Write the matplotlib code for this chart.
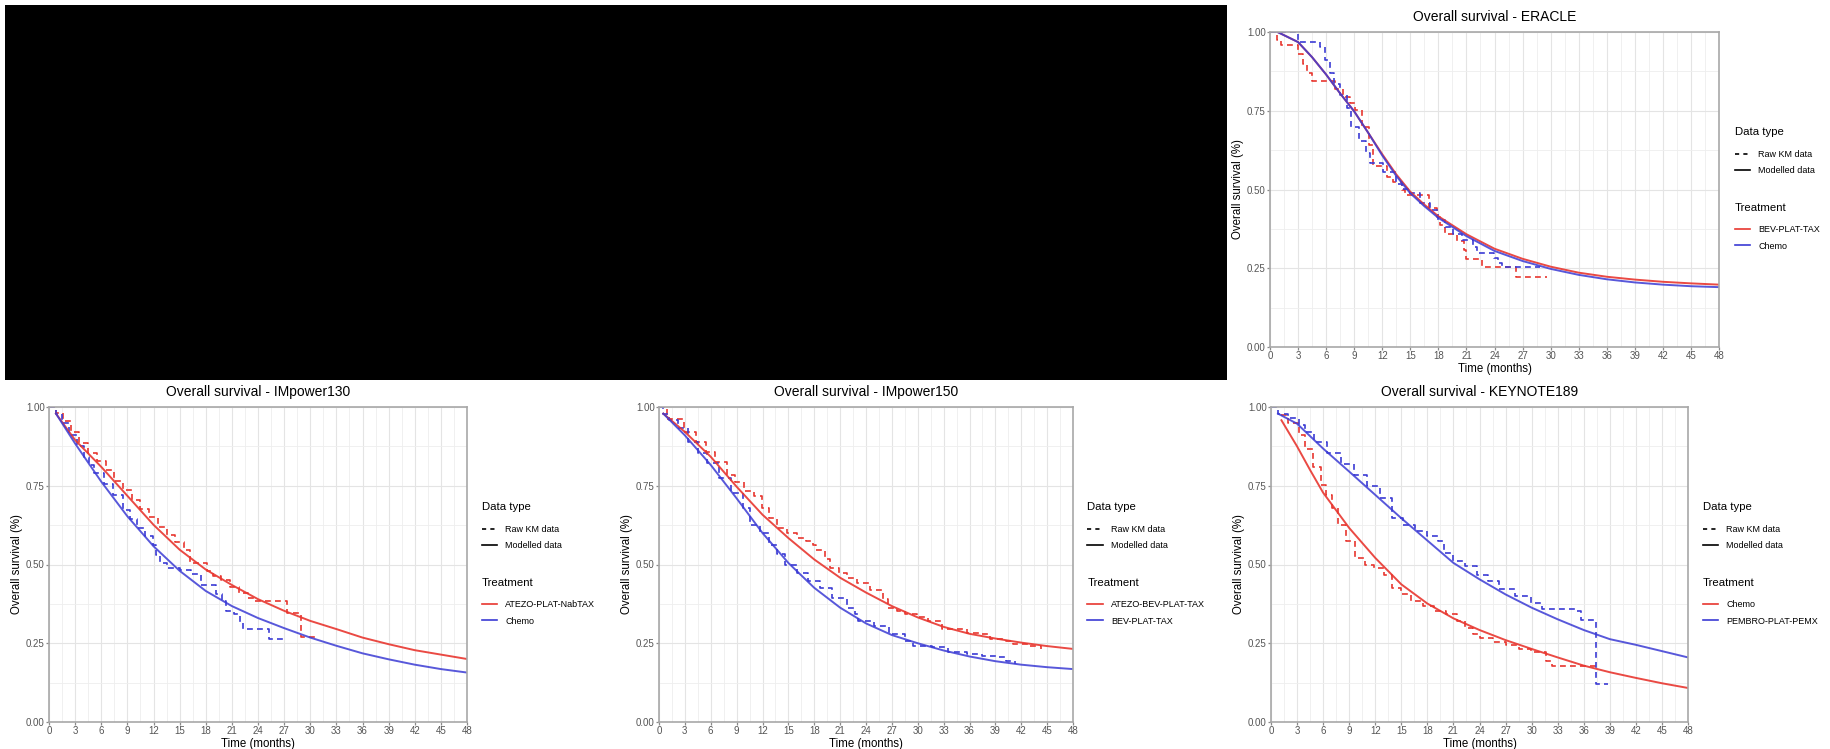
import matplotlib
matplotlib.use("Agg")
import matplotlib.pyplot as plt
from matplotlib.lines import Line2D
from matplotlib.patches import Rectangle
import numpy as np

plt.rcParams['font.family'] = ['Liberation Sans', 'DejaVu Sans']

RED = '#e8362f'
BLUE = '#3b3bd4'

# ---- ERACLE ----
eracle_trt = ["BEV-PLAT-TAX", "Chemo"]
eracle_mod_t = [0.8, 3, 4.5, 6, 7.5, 9, 10.5, 12, 13.5, 15, 16.5, 18, 21, 24, 27, 30, 33, 36, 39, 42, 45, 48]
eracle_mod_red = [1.0, 0.968, 0.92, 0.865, 0.805, 0.748, 0.68, 0.612, 0.548, 0.493, 0.452, 0.415, 0.358, 0.312, 0.28, 0.255, 0.236, 0.223, 0.214, 0.207, 0.202, 0.198]
eracle_mod_blue = [1.0, 0.968, 0.92, 0.865, 0.805, 0.748, 0.68, 0.608, 0.543, 0.488, 0.447, 0.41, 0.352, 0.305, 0.273, 0.248, 0.229, 0.215, 0.205, 0.198, 0.193, 0.19]
eracle_km_red_t = [0, 0.8, 1.2, 3.0, 3.5, 4.0, 4.5, 7.0, 7.8, 8.5, 9.1, 9.8, 10.6, 11.0, 12.5, 13.2, 14.1, 14.4, 17.0, 17.8, 18.2, 18.7, 20.0, 20.7, 21.0, 22.7, 26.3, 29.6]
eracle_km_red_s = [1.0, 0.975, 0.959, 0.93, 0.90, 0.87, 0.845, 0.82, 0.795, 0.775, 0.752, 0.70, 0.641, 0.575, 0.54, 0.525, 0.50, 0.482, 0.44, 0.414, 0.387, 0.36, 0.335, 0.308, 0.278, 0.255, 0.221, 0.221]
eracle_km_blue_t = [0, 3.0, 5.3, 5.9, 6.4, 6.8, 7.5, 8.2, 8.7, 9.5, 10.3, 10.7, 12.1, 13.5, 14.1, 14.8, 16.0, 17.1, 18.0, 18.7, 19.6, 20.5, 21.7, 22.1, 23.9, 24.4, 24.8, 28.9]
eracle_km_blue_s = [1.0, 0.969, 0.953, 0.91, 0.87, 0.835, 0.80, 0.76, 0.70, 0.655, 0.615, 0.585, 0.556, 0.519, 0.503, 0.488, 0.456, 0.435, 0.403, 0.382, 0.36, 0.34, 0.319, 0.30, 0.282, 0.266, 0.255, 0.255]

# ---- IMpower130 ----
imp130_trt = ["ATEZO-PLAT-NabTAX", "Chemo"]
imp130_mod_t = [0.8, 3, 6, 9, 12, 15, 18, 21, 24, 27, 30, 33, 36, 39, 42, 45, 48]
imp130_mod_red = [0.979, 0.895, 0.81, 0.718, 0.626, 0.547, 0.484, 0.435, 0.39, 0.353, 0.321, 0.295, 0.268, 0.247, 0.228, 0.214, 0.20]
imp130_mod_blue = [0.979, 0.884, 0.763, 0.653, 0.558, 0.48, 0.416, 0.368, 0.33, 0.298, 0.268, 0.242, 0.218, 0.199, 0.182, 0.168, 0.157]
imp130_km_red_t = [0, 0.8, 1.6, 2.5, 3.5, 4.5, 5.5, 6.5, 7.5, 8.5, 9.5, 10.5, 11.5, 12.5, 13.5, 14.5, 15.5, 16.2, 18.1, 18.8, 19.8, 20.8, 21.8, 22.8, 23.6, 27.3, 28.9, 31.0]
imp130_km_red_s = [1.0, 0.98, 0.955, 0.92, 0.885, 0.855, 0.83, 0.80, 0.765, 0.735, 0.705, 0.675, 0.65, 0.62, 0.595, 0.57, 0.545, 0.505, 0.48, 0.465, 0.45, 0.43, 0.41, 0.395, 0.385, 0.345, 0.27, 0.27]
imp130_km_blue_t = [0, 0.8, 1.5, 2.3, 3.2, 4.0, 4.6, 5.2, 6.3, 7.4, 8.5, 9.3, 10.1, 11.0, 11.9, 12.3, 12.8, 13.6, 15.1, 16.3, 17.5, 19.2, 19.9, 20.3, 21.2, 21.9, 22.3, 24.8, 25.3, 27.2]
imp130_km_blue_s = [1.0, 0.979, 0.95, 0.91, 0.875, 0.84, 0.815, 0.79, 0.757, 0.72, 0.673, 0.645, 0.616, 0.589, 0.563, 0.53, 0.505, 0.49, 0.484, 0.47, 0.435, 0.405, 0.384, 0.353, 0.342, 0.316, 0.295, 0.295, 0.263, 0.263]

# ---- IMpower150 ----
imp150_trt = ["ATEZO-BEV-PLAT-TAX", "BEV-PLAT-TAX"]
imp150_mod_t = [0.5, 3, 6, 9, 12, 15, 18, 21, 24, 27, 30, 33, 36, 39, 42, 45, 48]
imp150_mod_red = [0.979, 0.921, 0.842, 0.747, 0.658, 0.584, 0.516, 0.458, 0.411, 0.368, 0.332, 0.302, 0.28, 0.265, 0.252, 0.241, 0.232]
imp150_mod_blue = [0.979, 0.91, 0.816, 0.71, 0.60, 0.505, 0.426, 0.363, 0.313, 0.276, 0.25, 0.227, 0.208, 0.193, 0.182, 0.174, 0.168]
imp150_km_red_t = [0, 0.9, 2.9, 4.3, 5.4, 6.5, 7.9, 8.8, 9.9, 11.0, 11.9, 12.8, 13.7, 14.8, 16.0, 17.1, 17.8, 18.2, 19.3, 19.8, 20.9, 21.8, 23.0, 24.5, 26.0, 26.5, 27.6, 28.5, 29.9, 31.2, 32.8, 34.8, 35.7, 37.5, 38.4, 40.2, 41.1, 42.9, 44.3]
imp150_km_red_s = [1.0, 0.963, 0.92, 0.889, 0.858, 0.826, 0.784, 0.763, 0.732, 0.716, 0.679, 0.647, 0.616, 0.60, 0.584, 0.574, 0.563, 0.547, 0.516, 0.49, 0.474, 0.458, 0.44, 0.42, 0.39, 0.363, 0.353, 0.342, 0.332, 0.321, 0.295, 0.295, 0.284, 0.279, 0.263, 0.258, 0.247, 0.242, 0.232]
imp150_km_blue_t = [0, 0.5, 1.2, 2.2, 3.4, 4.5, 5.6, 7.0, 8.3, 9.7, 10.6, 11.7, 12.8, 13.7, 14.6, 16.0, 17.3, 18.7, 20.0, 21.8, 22.7, 23.1, 24.9, 26.7, 28.5, 29.4, 31.7, 33.5, 35.7, 37.5, 39.3, 40.2, 41.3]
imp150_km_blue_s = [1.0, 0.979, 0.96, 0.932, 0.889, 0.853, 0.821, 0.774, 0.726, 0.679, 0.626, 0.60, 0.563, 0.532, 0.50, 0.474, 0.447, 0.426, 0.395, 0.363, 0.342, 0.321, 0.305, 0.279, 0.258, 0.242, 0.237, 0.221, 0.216, 0.211, 0.205, 0.195, 0.184]

# ---- KEYNOTE189 ----
kn189_trt = ["Chemo", "PEMBRO-PLAT-PEMX"]
kn189_mod_red_t = [1.2, 3, 4.5, 6, 9, 12, 15, 18, 21, 24, 27, 30, 33, 36, 39, 42, 45, 48]
kn189_mod_red = [0.958, 0.875, 0.80, 0.728, 0.616, 0.521, 0.437, 0.376, 0.329, 0.292, 0.26, 0.232, 0.205, 0.179, 0.158, 0.14, 0.123, 0.108]
kn189_mod_blue_t = [0.8, 3, 6, 9, 12, 15, 18, 21, 24, 27, 30, 33, 36, 39, 42, 45, 48]
kn189_mod_blue = [0.979, 0.947, 0.868, 0.795, 0.721, 0.647, 0.576, 0.505, 0.453, 0.405, 0.363, 0.326, 0.292, 0.263, 0.245, 0.225, 0.205]
kn189_km_red_t = [1.2, 2.0, 3.2, 3.9, 4.8, 5.7, 6.3, 7.0, 7.7, 8.6, 9.7, 10.8, 11.9, 13.0, 13.9, 15.0, 16.1, 17.5, 18.8, 20.1, 21.4, 22.3, 23.2, 24.1, 25.5, 27.0, 28.5, 29.9, 31.7, 32.3, 37.7]
kn189_km_red_s = [0.974, 0.95, 0.91, 0.868, 0.81, 0.753, 0.721, 0.679, 0.626, 0.574, 0.521, 0.50, 0.489, 0.468, 0.426, 0.405, 0.384, 0.368, 0.353, 0.342, 0.321, 0.30, 0.279, 0.268, 0.255, 0.243, 0.232, 0.221, 0.195, 0.179, 0.179]
kn189_km_blue_t = [0, 0.8, 2.0, 3.2, 3.9, 5.0, 6.5, 8.0, 9.5, 11.0, 12.5, 13.9, 15.2, 16.6, 17.9, 19.2, 19.9, 21.0, 22.3, 23.7, 25.0, 26.3, 28.1, 29.9, 31.2, 35.2, 35.7, 37.4, 38.8]
kn189_km_blue_s = [1.0, 0.979, 0.965, 0.942, 0.921, 0.889, 0.855, 0.82, 0.785, 0.75, 0.71, 0.647, 0.626, 0.605, 0.589, 0.574, 0.537, 0.511, 0.495, 0.468, 0.447, 0.421, 0.40, 0.379, 0.358, 0.353, 0.324, 0.121, 0.121]

x_ticks = np.arange(0, 49, 3)
y_ticks = [0, 0.25, 0.5, 0.75, 1.0]
y_labels = ["0.00", "0.25", "0.50", "0.75", "1.00"]

fig = plt.figure(figsize=(18.3, 7.49), dpi=100)

LEG_KW = dict(loc='upper left', frameon=False, fontsize=6.5, title_fontsize=8.2,
              alignment='left', handlelength=1.7, handletextpad=0.9,
              labelspacing=0.85, borderpad=0, borderaxespad=0)


def panel(rect, title, trt, km_red, km_blue, mod_red, mod_blue):
    ax = fig.add_axes(rect)
    ax.plot(km_red[0], km_red[1], color=RED, lw=1.2, ls=(0, (3.5, 2.5)), drawstyle='steps-post')
    ax.plot(km_blue[0], km_blue[1], color=BLUE, lw=1.2, ls=(0, (3.5, 2.5)), drawstyle='steps-post')
    ax.plot(mod_red[0], mod_red[1], color=RED, lw=1.4, alpha=0.9)
    ax.plot(mod_blue[0], mod_blue[1], color=BLUE, lw=1.4, alpha=0.85)
    ax.set_xlim(0, 48)
    ax.set_ylim(0, 1)
    ax.set_xticks(x_ticks)
    ax.set_xticks(np.arange(1.5, 48, 3), minor=True)
    ax.set_yticks(y_ticks)
    ax.set_yticklabels(y_labels)
    ax.set_yticks([0.125, 0.375, 0.625, 0.875], minor=True)
    ax.grid(which='major', color='#e4e4e4', lw=0.8)
    ax.grid(which='minor', color='#eeeeee', lw=0.6)
    ax.set_axisbelow(True)
    for sp in ax.spines.values():
        sp.set_color('#a8a8a8')
        sp.set_linewidth(1.2)
    ax.tick_params(which='major', length=2, width=0.9, color='#8a8a8a',
                   labelsize=7, labelcolor='#555555', pad=1)
    ax.tick_params(which='minor', length=0)
    ax.set_xlabel("Time (months)", fontsize=8.3, labelpad=1)
    ax.set_ylabel("Overall survival (%)", fontsize=8.3, labelpad=2)
    ax.set_title(title, fontsize=10, pad=8)

    h1 = [Line2D([], [], color='black', lw=1.2, ls=(0, (2.5, 2.5))),
          Line2D([], [], color='black', lw=1.2)]
    leg1 = ax.legend(h1, ["Raw KM data", "Modelled data"], title="Data type",
                     bbox_to_anchor=(1.035, 0.698), **LEG_KW)
    leg1._legend_box.sep = 0.85 * 6.5 + 3.6
    ax.add_artist(leg1)
    h2 = [Line2D([], [], color=RED, lw=1.2), Line2D([], [], color=BLUE, lw=1.2)]
    leg2 = ax.legend(h2, trt, title="Treatment",
                     bbox_to_anchor=(1.035, 0.457), **LEG_KW)
    leg2._legend_box.sep = 0.85 * 6.5 + 3.0
    return ax


W, H = 1830.0, 749.0
panel([1270 / W, 1 - 347 / H, 449 / W, 315 / H], "Overall survival - ERACLE", eracle_trt,
      (eracle_km_red_t, eracle_km_red_s), (eracle_km_blue_t, eracle_km_blue_s),
      (eracle_mod_t, eracle_mod_red), (eracle_mod_t, eracle_mod_blue))
panel([49 / W, 1 - 722 / H, 418 / W, 315 / H], "Overall survival - IMpower130", imp130_trt,
      (imp130_km_red_t, imp130_km_red_s), (imp130_km_blue_t, imp130_km_blue_s),
      (imp130_mod_t, imp130_mod_red), (imp130_mod_t, imp130_mod_blue))
panel([659 / W, 1 - 722 / H, 414 / W, 315 / H], "Overall survival - IMpower150", imp150_trt,
      (imp150_km_red_t, imp150_km_red_s), (imp150_km_blue_t, imp150_km_blue_s),
      (imp150_mod_t, imp150_mod_red), (imp150_mod_t, imp150_mod_blue))
panel([1271 / W, 1 - 722 / H, 417 / W, 315 / H], "Overall survival - KEYNOTE189", kn189_trt,
      (kn189_km_red_t, kn189_km_red_s), (kn189_km_blue_t, kn189_km_blue_s),
      (kn189_mod_red_t, kn189_mod_red), (kn189_mod_blue_t, kn189_mod_blue))

# redacted block in the top-left
fig.patches.append(Rectangle((5 / W, 1 - 380 / H), 1222 / W, 375 / H,
                             transform=fig.transFigure, facecolor='black', edgecolor='none'))

fig.savefig('out.png', dpi=100)
